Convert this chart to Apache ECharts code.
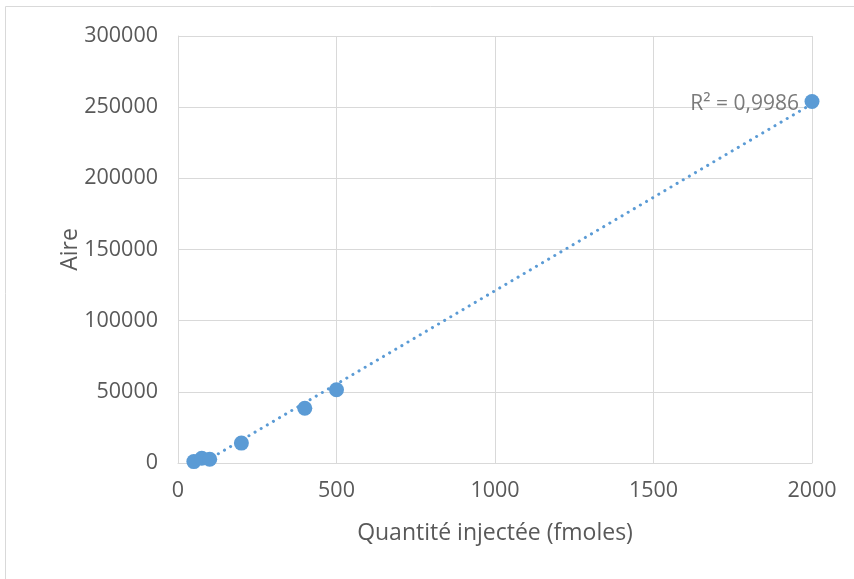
<!DOCTYPE html>
<html>
<head>
<meta charset="utf-8">
<script src="https://cdn.jsdelivr.net/npm/echarts@6/dist/echarts.min.js"></script>
<style>html,body{margin:0;padding:0;background:#fff}#c{width:854px;height:579px}</style>
</head>
<body>
<div id="c"></div>
<script>
var xValues = [50, 75, 100, 200, 400, 500, 2000];
var yValues = [1000, 3300, 2600, 14000, 38500, 51500, 254000];
var xTicks = [0, 500, 1000, 1500, 2000];
var yTicks = [0, 50000, 100000, 150000, 200000, 250000, 300000];
var r2Label = 'R² = 0,9986';

// linear regression for the trendline
var n = xValues.length, sx = 0, sy = 0, sxx = 0, sxy = 0;
for (var i = 0; i < n; i++) { sx += xValues[i]; sy += yValues[i]; sxx += xValues[i]*xValues[i]; sxy += xValues[i]*yValues[i]; }
var slope = (n*sxy - sx*sy) / (n*sxx - sx*sx);
var intercept = (sy - slope*sx) / n;
var xMin = Math.min.apply(null, xValues), xMax = Math.max.apply(null, xValues);
var trend = [[xMin, intercept + slope*xMin], [xMax, intercept + slope*xMax]];

var font = 'Open Sans';
var txt = '#595959';
var chart = echarts.init(document.getElementById('c'));
chart.setOption({
  animation: false,
  graphic: [{ type: 'rect', shape: { x: 5.5, y: 6.5, width: 900, height: 600 }, style: { fill: 'none', stroke: '#d9d9d9', lineWidth: 1 }, silent: true }],
  grid: { left: 178, right: 42, top: 36, bottom: 116 },
  xAxis: {
    type: 'value', min: 0, max: 2000, interval: 500,
    name: 'Quantité injectée (fmoles)', nameLocation: 'middle', nameGap: 59, nameMoveOverlap: false,
    nameTextStyle: { color: txt, fontFamily: font, fontSize: 23 },
    axisLine: { show: true, lineStyle: { color: '#d9d9d9', width: 1 } },
    axisTick: { show: false },
    splitLine: { show: true, lineStyle: { color: '#d9d9d9', width: 1 } },
    axisLabel: { color: txt, fontFamily: font, fontSize: 21.5, margin: 17,
      formatter: function (v) { return xTicks.indexOf(v) >= 0 ? String(v) : ''; } }
  },
  yAxis: {
    type: 'value', min: 0, max: 300000, interval: 50000,
    name: 'Aire', nameLocation: 'middle', nameGap: 96, nameMoveOverlap: false,
    nameTextStyle: { color: txt, fontFamily: font, fontSize: 23 },
    axisLine: { show: true, lineStyle: { color: '#d9d9d9', width: 1 } },
    axisTick: { show: false },
    splitLine: { show: true, lineStyle: { color: '#d9d9d9', width: 1 } },
    axisLabel: { color: txt, fontFamily: font, fontSize: 21.5, margin: 20,
      formatter: function (v) { return yTicks.indexOf(v) >= 0 ? String(v) : ''; } }
  },
  series: [
    {
      type: 'line', data: trend, showSymbol: false, symbol: 'none', clip: true,
      lineStyle: { color: '#5b9bd5', width: 3, type: [0.1, 7], cap: 'round' },
      z: 1
    },
    {
      type: 'scatter', data: xValues.map(function (x, i) { return [x, yValues[i]]; }),
      symbolSize: 15, itemStyle: { color: '#5b9bd5', opacity: 1 }, z: 3
    },
    {
      type: 'scatter', data: [[xMax, yValues[yValues.length - 1]]], symbolSize: 0,
      label: { show: true, position: 'left', distance: 13, offset: [0, 3], formatter: r2Label,
        color: txt, fontFamily: font, fontSize: 21 },
      z: 4, silent: true
    }
  ]
});
</script>
</body>
</html>
